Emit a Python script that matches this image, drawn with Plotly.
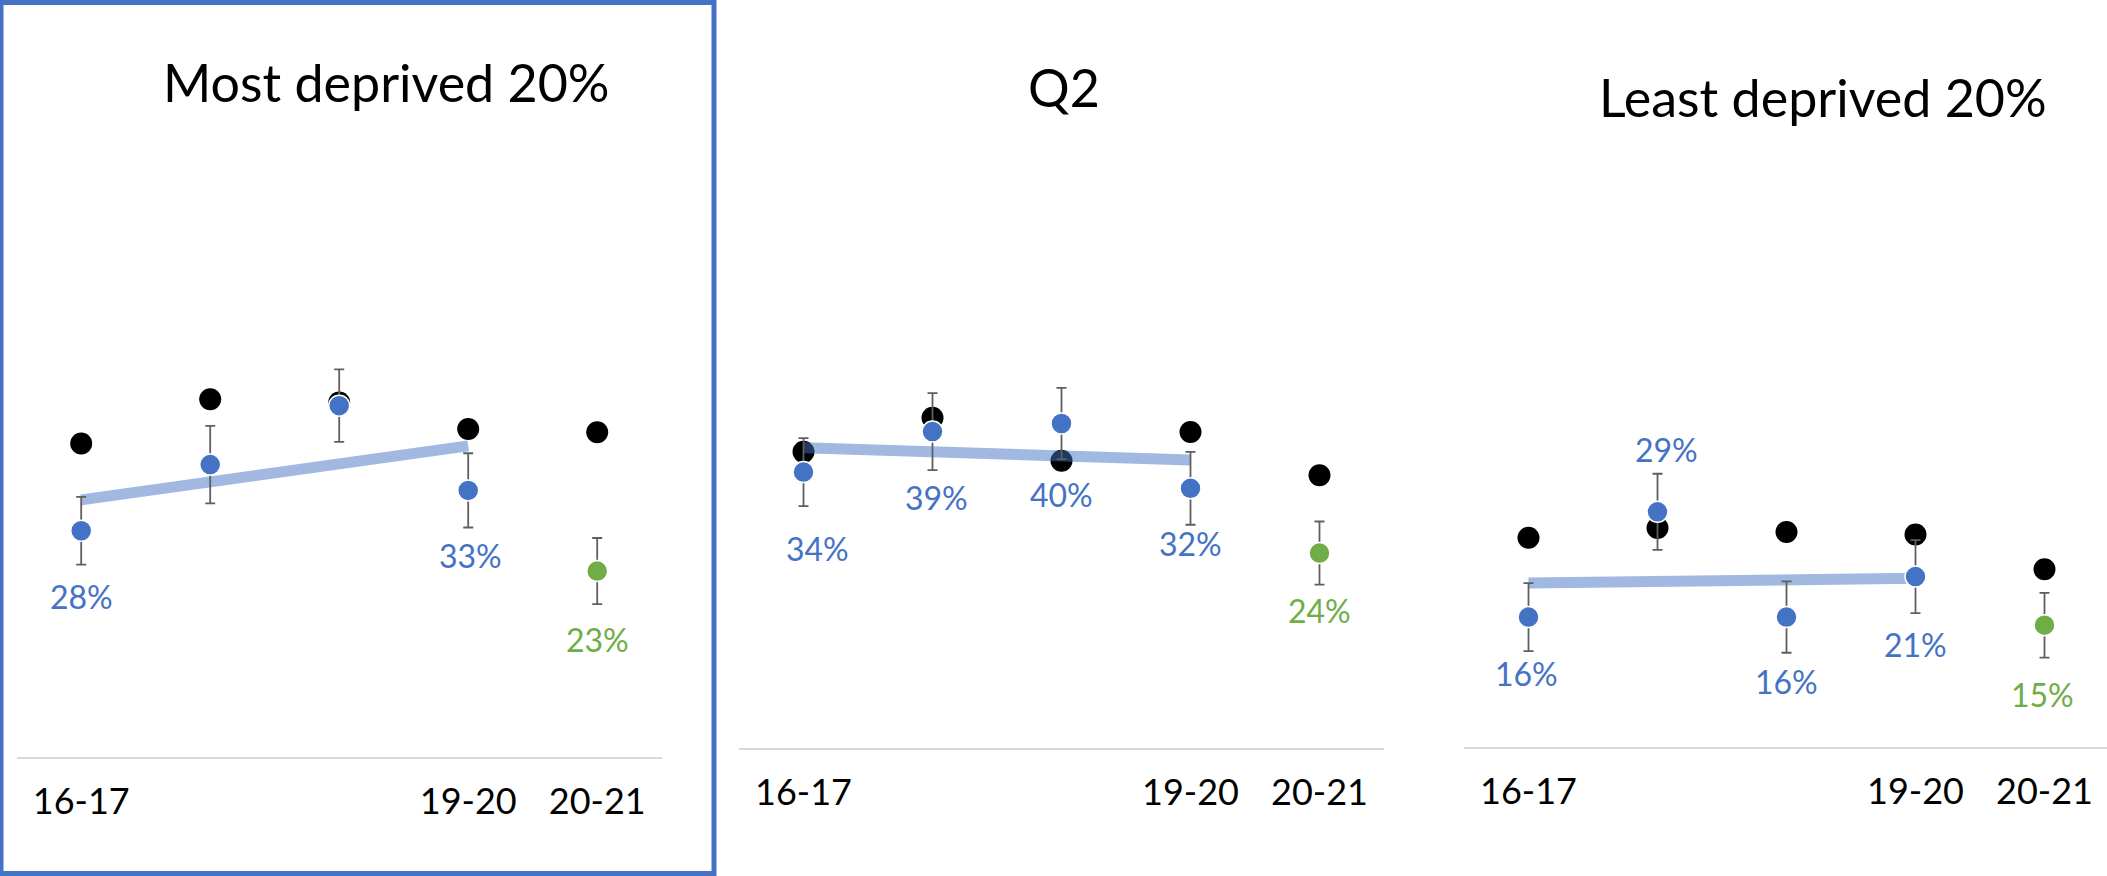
import numpy as np
import plotly.graph_objects as go

# ---- data -----------------------------------------------------------------
periods = ["16-17", "17-18", "18-19", "19-20", "20-21"]
tick_periods = ["16-17", "19-20", "20-21"]
panel_titles = ["Most deprived 20%", "Q2", "Least deprived 20%"]

# black reference points, one per period
most_black = [38.8, 44.3, 43.9, 40.6, 40.2]
q2_black = [36.5, 40.7, 35.4, 38.95, 33.6]
least_black = [25.8, 27.0, 26.5, 26.2, 21.9]

# blue points (16-17 to 19-20) with their error margins
most_blue = [28, 36.2, 43.5, 33]
most_blue_err = [4.2, 4.8, 4.5, 4.6]
most_blue_shown = [True, False, False, True]

q2_blue = [34, 39, 40, 32]
q2_blue_err = [4.2, 4.75, 4.4, 4.5]
q2_blue_shown = [True, True, True, True]

least_blue = [16, 29, 16, 21]
least_blue_err = [4.2, 4.7, 4.4, 4.5]
least_blue_shown = [True, True, True, True]

# green point for 20-21 with its error margin
most_green, most_green_err = 23, 4.1
q2_green, q2_green_err = 24, 3.9
least_green, least_green_err = 15, 4.0

# ---- styling / layout -------------------------------------------------------
W, H = 2107, 876
BLUE = "#4472C4"
GREEN = "#70AD47"
FONT = "Lato"

# per panel: x extent of plot (px), y pixel of the axis (0%), px per percentage point
panel_geom = [
    dict(x0=16.7, x1=661.7, y0=756.7, ppp=8.07),
    dict(x0=739.0, x1=1384.0, y0=747.5, ppp=8.10),
    dict(x0=1464.0, x1=2107.0, y0=746.7, ppp=8.10),
]
cat_px = 129.0  # width of one category slot in px
plot_top_px = 150.0

# title centres (px)
title_pos = [(386, 82), (1064, 87), (1823, 97)]

# label offsets (dx, dy) in px relative to the point, dy>0 means above
blue_label_off = [
    [(0, -66), None, None, (2, -65)],
    [(14, -76), (4, -66), (0, -71), (0, -55)],
    [(-2, -56), (9, 62), (0, -64), (0, -68)],
]
green_label_off = [(0, -68), (0, -57), (-2, -69)]

panels = [
    (most_black, most_blue, most_blue_err, most_blue_shown, most_green, most_green_err),
    (q2_black, q2_blue, q2_blue_err, q2_blue_shown, q2_green, q2_green_err),
    (least_black, least_blue, least_blue_err, least_blue_shown, least_green, least_green_err),
]

fig = go.Figure()
annotations = []
idx = list(range(len(periods)))

for p, (black, blue, blue_err, shown, green, green_err) in enumerate(panels):
    xa = "x" if p == 0 else f"x{p + 1}"
    ya = "y" if p == 0 else f"y{p + 1}"
    g = panel_geom[p]

    # black points
    fig.add_trace(go.Scatter(
        x=idx, y=black, mode="markers", xaxis=xa, yaxis=ya,
        marker=dict(color="black", size=22), showlegend=False, hoverinfo="skip"))

    # linear trend through the blue points
    bx = idx[:len(blue)]
    slope, icpt = np.polyfit(bx, blue, 1)
    tx = [bx[0], bx[-1]]
    fig.add_trace(go.Scatter(
        x=tx, y=[icpt + slope * t for t in tx], mode="lines", xaxis=xa, yaxis=ya,
        line=dict(color="rgba(68,114,196,0.5)", width=11),
        showlegend=False, hoverinfo="skip"))

    # blue points with error bars
    fig.add_trace(go.Scatter(
        x=bx, y=blue, mode="markers", xaxis=xa, yaxis=ya,
        marker=dict(color=BLUE, size=21, line=dict(color="white", width=1.5)),
        error_y=dict(type="data", array=blue_err, color="#5f5f5f", thickness=1.8, width=5),
        showlegend=False, hoverinfo="skip"))

    # green point with error bar
    fig.add_trace(go.Scatter(
        x=[idx[-1]], y=[green], mode="markers", xaxis=xa, yaxis=ya,
        marker=dict(color=GREEN, size=21, line=dict(color="white", width=1.5)),
        error_y=dict(type="data", array=[green_err], color="#5f5f5f", thickness=1.8, width=5),
        showlegend=False, hoverinfo="skip"))

    # value labels
    for i, v in enumerate(blue):
        off = blue_label_off[p][i]
        if not shown[i] or off is None:
            continue
        annotations.append(dict(
            x=bx[i], y=v, xref=xa, yref=ya, text=f"{v:.0f}%", showarrow=False,
            xshift=off[0], yshift=off[1], font=dict(family=FONT, size=32, color=BLUE)))
    off = green_label_off[p]
    annotations.append(dict(
        x=idx[-1], y=green, xref=xa, yref=ya, text=f"{green:.0f}%", showarrow=False,
        xshift=off[0], yshift=off[1], font=dict(family=FONT, size=32, color=GREEN)))

    # panel title
    tx_, ty_ = title_pos[p]
    annotations.append(dict(
        x=tx_ / W, y=1 - ty_ / H, xref="paper", yref="paper", text=panel_titles[p],
        showarrow=False, xanchor="center", yanchor="middle",
        font=dict(family=FONT, size=52, color="black")))

    # axes
    nslots = (g["x1"] - g["x0"]) / cat_px
    xaxis = dict(
        domain=[g["x0"] / W, g["x1"] / W], range=[-0.5, -0.5 + nslots],
        tickvals=[periods.index(t) for t in tick_periods], ticktext=tick_periods,
        showline=True, linecolor="#D9D9D9", linewidth=2, showgrid=False, zeroline=False,
        ticks="", ticklabelstandoff=12, tickfont=dict(family=FONT, size=36, color="black"),
        anchor=ya, fixedrange=True)
    yaxis = dict(
        domain=[(H - g["y0"]) / H, (H - plot_top_px) / H],
        range=[0, (g["y0"] - plot_top_px) / g["ppp"]],
        visible=False, anchor=xa, fixedrange=True)
    key = "" if p == 0 else str(p + 1)
    fig.layout["xaxis" + key] = xaxis
    fig.layout["yaxis" + key] = yaxis

# frame around the first panel
shapes = [dict(type="rect", xref="paper", yref="paper",
               x0=1 / W, x1=714 / W, y0=1 - 2.5 / H, y1=1 - 873.5 / H,
               line=dict(color=BLUE, width=5))]

fig.update_layout(
    width=W, height=H, margin=dict(l=0, r=0, t=0, b=0),
    paper_bgcolor="white", plot_bgcolor="white",
    annotations=annotations, shapes=shapes, showlegend=False)

fig.write_html("out.html", config={"displayModeBar": False})
